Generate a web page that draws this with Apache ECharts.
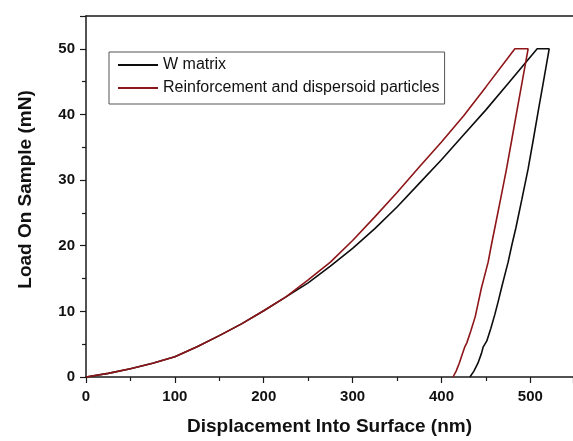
<!DOCTYPE html>
<html>
<head>
<meta charset="utf-8">
<style>html,body{margin:0;padding:0;background:#fff;}#c{width:573px;height:441px;}</style>
<script src="https://cdn.jsdelivr.net/npm/echarts@6/dist/echarts.min.js"></script>
</head>
<body>
<div id="c"></div>
<script>
// W matrix: loading, hold, unloading (displacement nm, load mN)
var wMatrixX = [0,25,50,75,100,125,150,175,200,225,250,275,300,325,350,375,400,425,450,475,507.7,
                521.2,515,509.5,503.5,497.5,490.5,483.7,479,475,471,467.6,464,460,455.5,451,447,445,441,436.5,432];
var wMatrixY = [0,0.55,1.25,2.1,3.1,4.6,6.3,8.1,10.1,12.2,14.35,16.9,19.6,22.6,25.9,29.5,33.1,36.9,40.7,44.7,50,
                50,45.2,41,36.3,31.7,27.1,22.7,20,17.5,15.4,13.6,11.6,9.5,7.4,5.5,4.6,3.6,2.1,0.9,0];
// Reinforcement and dispersoid particles
var reinfX = [0,25,50,75,100,125,150,175,200,225,250,275,300,325,350,375,400,425,450,482.6,
              497.5,491.5,485.5,479.3,473.2,466.5,460,456,452.5,448.5,445,441.5,438,433,428.5,426,423.5,420,416.5,413];
var reinfY = [0,0.55,1.25,2.1,3.1,4.6,6.3,8.1,10.1,12.2,14.8,17.5,20.8,24.4,28.1,32.0,35.8,39.8,44.2,50,
              50,45.5,41,36.3,31.7,27.1,22.7,20,17.5,15.4,13.6,11.4,9.2,7,5.2,4.5,3.5,2.1,0.9,0];
var seriesNames = ['W matrix', 'Reinforcement and dispersoid particles'];
var xTitle = 'Displacement Into Surface (nm)';
var yTitle = 'Load On Sample (mN)';

function zip(a, b) { return a.map(function (v, i) { return [v, b[i]]; }); }

var chart = echarts.init(document.getElementById('c'), null, {renderer: 'canvas'});
var axisCol = '#1a1a1a';
var fam = 'Liberation Sans, Arial, sans-serif';
chart.setOption({
  backgroundColor: '#ffffff',
  animation: false,
  grid: {left: 86, right: 0, top: 16, bottom: 61, containLabel: false},
  legend: {
    left: 109, top: 52, orient: 'vertical',
    padding: [5, 5, 8, 8],
    borderColor: '#555', borderWidth: 1,
    itemWidth: 40, itemHeight: 14, itemGap: 7,
    itemStyle: {opacity: 0},
    lineStyle: {width: 2},
    textStyle: {fontFamily: fam, fontSize: 16, color: '#111'},
    data: seriesNames
  },
  xAxis: [{
    type: 'value', min: 0, max: 548, interval: 100,
    axisLine: {show: true, lineStyle: {color: axisCol, width: 1.5}},
    axisTick: {show: true, inside: false, length: 6, lineStyle: {color: axisCol, width: 1.2}},
    minorTick: {show: true, splitNumber: 2, length: 4, lineStyle: {color: axisCol, width: 1.2}},
    splitLine: {show: false},
    axisLabel: {showMaxLabel: false, margin: 12, fontFamily: fam, fontSize: 15, fontWeight: 'bold', color: '#111'},
    name: xTitle, nameLocation: 'middle', nameGap: 40,
    nameTextStyle: {fontFamily: fam, fontSize: 19, fontWeight: 'bold', color: '#111'}
  }, {
    type: 'value', position: 'top', min: 0, max: 548, interval: 100,
    axisLine: {show: true, lineStyle: {color: axisCol, width: 1.5}},
    axisTick: {show: false}, axisLabel: {show: false}, splitLine: {show: false}
  }],
  yAxis: {
    type: 'value', min: 0, max: 55, interval: 10,
    axisLine: {show: true, lineStyle: {color: axisCol, width: 1.5}},
    axisTick: {show: true, inside: false, length: 6, lineStyle: {color: axisCol, width: 1.2}},
    minorTick: {show: true, splitNumber: 2, length: 4, lineStyle: {color: axisCol, width: 1.2}},
    splitLine: {show: false},
    axisLabel: {showMaxLabel: false, margin: 11, fontFamily: fam, fontSize: 15, fontWeight: 'bold', color: '#111'},
    name: yTitle, nameLocation: 'middle', nameGap: 51,
    nameTextStyle: {fontFamily: fam, fontSize: 19, fontWeight: 'bold', color: '#111', padding: [0, 0, 0, 14]}
  },
  series: [{
    name: seriesNames[0], type: 'line', xAxisIndex: 0,
    data: zip(wMatrixX, wMatrixY), symbol: 'none', smooth: false,
    lineStyle: {color: '#0d0d0d', width: 1.6}, itemStyle: {color: '#0d0d0d'}
  }, {
    name: seriesNames[1], type: 'line', xAxisIndex: 0,
    data: zip(reinfX, reinfY), symbol: 'none', smooth: false,
    lineStyle: {color: '#8e1518', width: 1.6}, itemStyle: {color: '#8e1518'}
  }]
});
</script>
</body>
</html>
